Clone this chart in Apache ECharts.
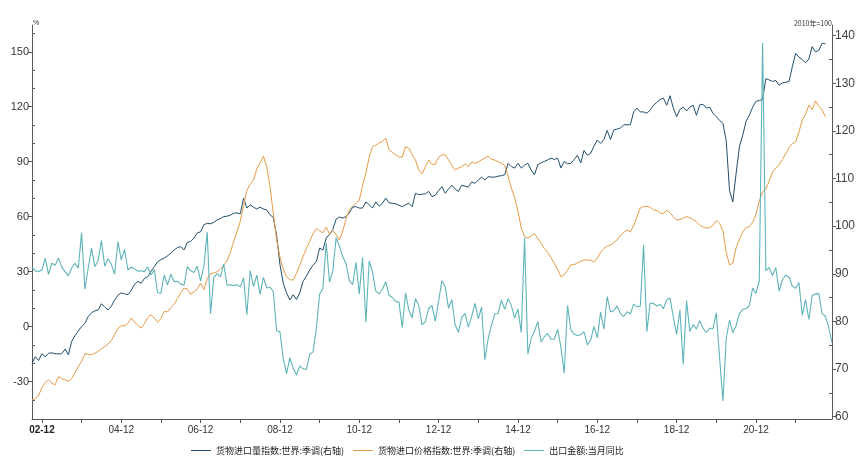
<!DOCTYPE html>
<html>
<head>
<meta charset="utf-8">
<script src="https://cdn.jsdelivr.net/npm/echarts@6/dist/echarts.min.js"></script>
<style>
html,body{margin:0;padding:0;background:#fff;}
#chart{width:865px;height:460px;}
</style>
</head>
<body>
<div id="chart"></div>
<script>
// Monthly categories: 2002-09 .. 2022-11
const startYear = 2002, startMonth = 9, monthCount = 243;
const months = [];
for (let k = 0; k < monthCount; k++) {
  const m = startMonth - 1 + k;
  const y = startYear + Math.floor(m / 12);
  const mm = (m % 12) + 1;
  months.push(y + '-' + (mm < 10 ? '0' + mm : '' + mm));
}

const seriesNames = ['货物进口量指数:世界:季调(右轴)', '货物进口价格指数:世界:季调(右轴)', '出口金额:当月同比'];

// 货物进口量指数:世界:季调 (2010=100), 2002-09 .. 2022-09
const importVolume = [
  71.2, 72.6, 71.8, 73.2,
  72.6, 73.3, 73.4, 73.2, 73.2, 73.2, 74.2, 73.0, 75.8, 77.0, 78.0, 78.9,
  79.6, 81.0, 81.8, 82.2, 82.4, 83.7, 83.0, 82.4, 83.2, 84.5, 85.5, 86.0,
  85.8, 85.6, 86.5, 87.8, 88.4, 88.0, 89.0, 89.4, 90.5, 91.5, 92.5, 93.0,
  93.3, 93.8, 94.3, 95.0, 95.5, 95.7, 95.0, 96.6, 96.8, 97.5, 98.6, 98.8,
  100.3, 100.6, 100.5, 100.8, 101.3, 101.6, 102.0, 102.1, 102.3, 102.7, 102.8, 102.6,
  105.9, 103.8, 104.5, 104.0, 103.6, 104.0, 103.6, 103.4, 102.4, 101.8, 98.0, 92.0,
  88.0, 86.0, 84.5, 85.6, 84.6, 86.0, 88.4, 89.5, 90.8, 91.8, 92.5, 95.4,
  95.0, 97.5, 98.3, 99.3, 101.5, 101.9, 101.7, 102.0, 102.8, 104.0, 104.1, 103.8,
  103.8, 105.1, 104.5, 103.8, 105.1, 104.2, 104.8, 105.9, 104.9, 104.8, 104.7, 104.4,
  104.1, 104.5, 104.8, 104.1, 106.9, 106.6, 106.7, 106.8, 107.3, 106.2, 106.5, 107.5,
  108.3, 106.9, 107.8, 108.6, 107.8, 107.3, 108.6, 108.4, 108.2, 109.3, 109.0, 109.7,
  110.3, 109.7, 110.4, 110.3, 110.3, 110.5, 110.6, 110.8, 113.2, 112.5, 112.2, 113.2,
  112.2, 112.8, 113.2, 111.8, 110.8, 112.9, 113.3, 113.6, 113.9, 114.3, 114.0, 114.3,
  112.2, 113.6, 113.1, 113.2, 114.0, 114.9, 113.3, 115.9, 114.9, 115.3, 116.8, 118.1,
  117.4, 118.2, 120.1, 118.2, 120.2, 120.4, 120.6, 121.3, 121.3, 121.3, 124.0, 124.8,
  124.0, 124.0, 123.7, 124.4, 125.4, 126.0, 126.6, 126.9, 125.4, 127.4, 124.8, 123.0,
  124.5, 125.0, 124.2, 125.0, 125.4, 123.3, 125.5, 125.6, 124.8, 125.0, 123.7, 123.0,
  122.2, 121.6, 118.0, 107.5, 105.1, 111.1, 116.7, 119.1, 122.0, 123.3, 125.0, 126.2,
  126.4, 126.6, 131.0, 130.7, 130.4, 130.6, 129.6, 130.1, 130.2, 130.4, 133.5, 136.3,
  135.5, 135.0, 134.3, 135.1, 137.7, 136.6, 136.9, 138.4, 138.3
];

// 货物进口价格指数:世界:季调 (2010=100), 2002-09 .. 2022-09
const importPrice = [
  63.5, 63.8, 64.5, 66.0,
  67.2, 67.7, 67.0, 66.7, 68.4, 68.0, 67.7, 67.4, 68.0, 69.2, 70.5, 71.6,
  73.2, 73.1, 73.0, 73.3, 73.7, 74.2, 74.7, 75.2, 76.0, 77.2, 78.5, 79.1,
  79.1, 79.6, 80.7, 79.8, 79.2, 78.6, 79.5, 80.8, 81.4, 80.7, 79.8, 80.6,
  82.1, 82.0, 82.9, 83.6, 84.8, 86.0, 87.0, 86.8, 85.7, 86.2, 86.8, 88.0,
  86.7, 89.0, 90.0, 90.2, 90.4, 91.0, 91.8, 92.7, 94.5, 96.8, 98.8, 101.0,
  104.3, 107.5, 108.8, 109.6, 112.0, 113.3, 114.7, 112.5, 108.3, 102.7, 97.1, 93.5,
  91.0, 89.4, 88.7, 88.7, 90.1, 91.8, 93.6, 95.3, 96.8, 98.4, 99.5, 99.0,
  98.6, 99.8, 98.3, 99.1, 98.2, 97.1, 99.0, 101.5, 103.5, 104.2, 104.8, 105.5,
  108.5, 111.1, 114.5, 116.7, 117.0, 117.5, 117.8, 118.5, 116.0, 115.5, 115.0, 114.5,
  114.5, 116.7, 116.4, 115.0, 113.9, 111.8, 111.0, 112.5, 113.9, 113.0, 113.0, 114.5,
  115.0, 115.0, 113.9, 112.8, 111.8, 112.2, 112.5, 113.1, 112.5, 113.5, 113.2, 113.5,
  113.9, 114.3, 114.7, 114.0, 113.9, 113.5, 113.2, 112.8, 110.5, 108.0, 106.0, 103.2,
  99.6, 97.8, 97.5, 98.0, 98.4, 97.5, 96.4, 95.3, 94.5, 93.4, 92.2, 90.9,
  89.4, 89.8, 90.8, 91.9, 91.9, 92.3, 92.6, 92.9, 92.9, 92.8, 92.5, 93.3,
  94.5, 95.3, 95.8, 96.0, 96.6, 97.1, 98.0, 98.7, 99.2, 98.8, 100.1, 102.0,
  103.8, 104.1, 104.2, 104.0, 103.4, 103.3, 102.8, 102.6, 103.4, 102.8, 102.0, 101.3,
  101.4, 101.7, 102.0, 101.8, 101.4, 100.9, 100.2, 99.8, 99.6, 99.7, 100.2, 101.2,
  100.6, 99.0, 94.5, 91.9, 92.2, 95.5, 97.2, 98.8, 99.7, 99.9, 100.8, 102.5,
  105.3, 107.2, 107.8, 109.5, 111.3, 112.2, 112.9, 114.0, 115.2, 116.5, 117.3, 117.7,
  119.8, 122.3, 123.5, 125.4, 124.5, 126.3, 125.2, 124.4, 123.0
];

// 出口金额:当月同比 (%), 2002-09 .. 2022-11
const exportYoY = [
  32.3, 30.5, 30.0, 31.0,
  37.3, 28.5, 34.6, 33.5, 37.3, 32.5, 30.0, 27.7, 32.0, 34.6, 31.9, 51.3,
  20.4, 32.0, 42.8, 32.7, 36.0, 46.9, 33.0, 37.0, 34.0, 28.7, 46.4, 36.4,
  42.2, 30.9, 32.5, 31.5, 30.3, 30.5, 30.0, 32.7, 28.2, 31.0, 18.5, 18.2,
  28.2, 22.7, 28.7, 24.5, 24.8, 23.2, 22.6, 32.7, 30.5, 29.5, 33.0, 25.0,
  33.0, 51.6, 6.9, 26.8, 28.9, 27.1, 34.1, 22.7, 22.8, 22.3, 22.9, 21.7,
  26.6, 6.5, 30.6, 21.8, 28.1, 17.6, 26.9, 21.1, 21.5, 19.2, -2.2, -2.8,
  -17.5, -25.7, -17.1, -22.6, -26.4, -21.4, -23.0, -23.4, -15.2, -13.8, -1.2, 17.7,
  21.0, 45.7, 24.3, 30.5, 48.5, 43.9, 38.1, 34.4, 25.1, 22.9, 34.9, 17.9,
  37.7, 2.4, 35.8, 29.9, 19.4, 17.9, 20.4, 24.5, 17.1, 15.9, 13.8, 13.4,
  -0.5, 18.4, 8.9, 4.9, 15.3, 11.3, 1.0, 2.7, 9.9, 11.6, 2.9, 14.1,
  25.0, 21.8, 10.0, 14.7, 1.0, -3.1, 5.1, 7.2, -0.3, 5.6, 12.7, 4.3,
  10.6, -18.1, -6.6, 0.9, 7.0, 7.2, 14.5, 9.4, 15.3, 11.6, 4.7, 9.7,
  -3.3, 48.3, -15.0, -6.4, -2.5, 2.8, -8.3, -5.5, -3.7, -6.9, -6.8, -1.4,
  -11.2, -25.4, 11.5, -1.8, -4.1, -4.8, -4.4, -2.8, -10.0, -7.3, 0.1, -6.1,
  7.9, -1.3, 16.4, 8.0, 8.7, 11.3, 7.2, 5.5, 8.1, 6.9, 12.3, 10.9,
  11.1, 44.5, -2.7, 12.9, 12.6, 11.3, 12.2, 9.8, 14.5, 15.6, 5.4, -4.4,
  9.1, -20.7, 14.2, -2.7, 1.1, -1.3, 3.3, -1.0, -3.2, -0.9, -1.1, 7.6,
  -17.2, -40.6, -6.6, 3.5, -3.3, 0.5, 7.2, 9.5, 9.9, 11.4, 21.1, 18.1,
  24.9, 154.9, 30.6, 32.3, 27.9, 32.2, 19.3, 25.6, 28.1, 27.1, 22.0, 20.9,
  24.1, 6.2, 14.7, 3.9, 16.9, 17.9, 18.0, 7.1, 5.7, -0.3, -8.7
];

// Tick values
const leftTicks = [-30, 0, 30, 60, 90, 120, 150];
const leftMinorTicks = [-40, -20, -10, 10, 20, 40, 50, 70, 80, 100, 110, 130, 140, 160];
const rightTicks = [60, 70, 80, 90, 100, 110, 120, 130, 140];
const rightMinorTicks = [65, 75, 85, 95, 105, 115, 125, 135];

const colors = ['#214e6b', '#e49b45', '#5fb4b8'];
const axisColor = '#595959';
const txtColor = '#333333';
const numFont = '"Liberation Sans", Arial, sans-serif';
const cjkFont = '"Noto Sans CJK SC", sans-serif';

const leftMin = -50.4, leftMax = 164.6;
const rightMin = 59.5, rightMax = 142.25;

const chart = echarts.init(document.getElementById('chart'), null, {renderer: 'canvas'});
chart.setOption({
  animation: false,
  backgroundColor: '#ffffff',
  color: colors,
  grid: {left: 32, right: 33, top: 25, bottom: 41, containLabel: false},
  legend: {
    left: 186, top: 441,
    icon: 'rect',
    itemWidth: 20, itemHeight: 1, itemGap: 9,
    textStyle: {fontSize: 9, color: '#222', fontFamily: cjkFont},
    data: seriesNames
  },
  graphic: [
    {type: 'text', left: 33, top: 20, style: {text: '%', fontSize: 7, fill: txtColor, fontFamily: numFont}},
    {type: 'text', right: 33, top: 20, style: {text: '2010年=100', fontSize: 7, fill: txtColor, fontFamily: cjkFont}}
  ],
  xAxis: {
    type: 'category',
    data: months,
    boundaryGap: false,
    axisLine: {show: true, onZero: false, lineStyle: {color: axisColor, width: 1}},
    axisTick: {
      show: true, length: 4, lineStyle: {color: axisColor},
      interval: function (i, v) { return v.slice(5) === '12'; }
    },
    axisLabel: {
      margin: 6, fontSize: 10, color: txtColor, fontFamily: numFont,
      interval: function (i, v) { return v.slice(5) === '12' && (+v.slice(0, 4)) % 2 === 0; },
      formatter: function (v, i) {
        const s = v.slice(2, 4) + '-' + v.slice(5);
        return v.slice(0, 4) === '2002' ? '{b|' + s + '}' : s;
      },
      rich: {b: {fontWeight: 'bold', fontSize: 10, color: '#222', fontFamily: numFont}}
    },
    splitLine: {show: false}
  },
  yAxis: [
    {
      type: 'value', position: 'left', min: leftMin, max: leftMax,
      axisLine: {show: true, lineStyle: {color: axisColor}},
      axisTick: {show: true, length: 4, customValues: leftTicks, lineStyle: {color: axisColor}},
      axisLabel: {customValues: leftTicks, fontSize: 11, color: txtColor, margin: 3, fontFamily: numFont},
      splitLine: {show: false}
    },
    {
      type: 'value', position: 'right', min: rightMin, max: rightMax,
      axisLine: {show: true, lineStyle: {color: axisColor}},
      axisTick: {show: true, length: 4, customValues: rightTicks, lineStyle: {color: axisColor}},
      axisLabel: {customValues: rightTicks, fontSize: 12, color: '#404040', margin: 3, fontFamily: numFont},
      splitLine: {show: false}
    },
    {
      type: 'value', position: 'left', min: leftMin, max: leftMax,
      axisLine: {show: false},
      axisTick: {show: true, inside: true, length: 3, customValues: leftMinorTicks, lineStyle: {color: axisColor}},
      axisLabel: {show: false, customValues: leftMinorTicks},
      splitLine: {show: false}
    },
    {
      type: 'value', position: 'right', min: rightMin, max: rightMax,
      axisLine: {show: false},
      axisTick: {show: true, inside: true, length: 3, customValues: rightMinorTicks, lineStyle: {color: axisColor}},
      axisLabel: {show: false, customValues: rightMinorTicks},
      splitLine: {show: false}
    }
  ],
  series: [
    {name: seriesNames[0], type: 'line', yAxisIndex: 1, data: importVolume, symbol: 'none',
     lineStyle: {width: 1, color: colors[0]}, itemStyle: {color: colors[0]}},
    {name: seriesNames[1], type: 'line', yAxisIndex: 1, data: importPrice, symbol: 'none',
     lineStyle: {width: 1, color: colors[1]}, itemStyle: {color: colors[1]}},
    {name: seriesNames[2], type: 'line', yAxisIndex: 0, data: exportYoY, symbol: 'none',
     lineStyle: {width: 1.1, color: colors[2]}, itemStyle: {color: colors[2]}}
  ]
});
</script>
</body>
</html>
